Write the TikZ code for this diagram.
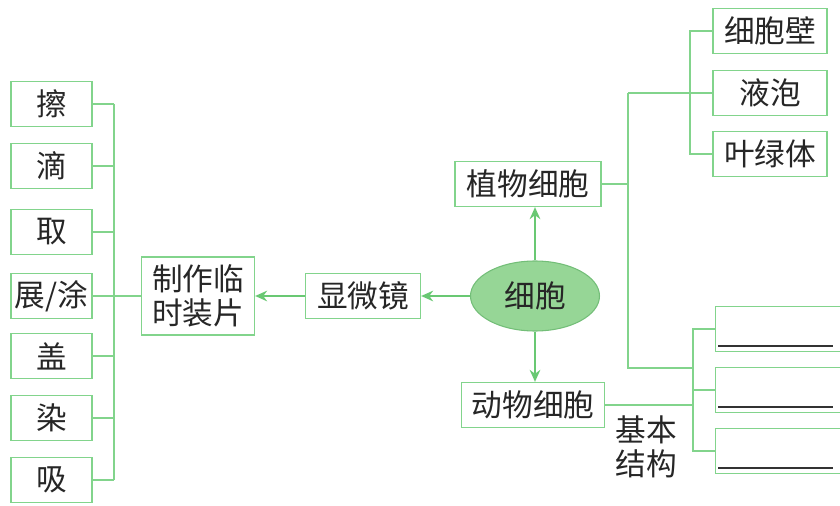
\documentclass[tikz,border=0pt]{standalone}
\usepackage{fontspec}
\newfontfamily\cjk{Noto Sans CJK SC}
\usepackage{tikz}
\usetikzlibrary{positioning,arrows.meta,shapes.geometric,calc}

\definecolor{linegreen}{RGB}{130,212,140}
\definecolor{arrowgreen}{RGB}{105,200,115}
\definecolor{cellfill}{RGB}{150,214,150}
\definecolor{celldraw}{RGB}{115,190,120}

\begin{document}
\begin{tikzpicture}[
  x=0.75pt, y=-0.75pt,
  cbox/.style={draw=linegreen, line width=1pt, rectangle, inner sep=0pt,
    minimum height=33.75pt, font=\cjk\fontsize{23}{25}\selectfont, text=black!85},
  stepbox/.style={cbox, minimum width=60.75pt},
  blankbox/.style={cbox, minimum width=95pt},
  link/.style={draw=linegreen, line width=1pt},
  flow/.style={draw=arrowgreen, line width=1pt, -{Stealth[length=9pt,width=8pt]}, arrowgreen},
  blank/.style={draw=black!80, line width=1.2pt},
  >=Stealth
]
\useasboundingbox (0,0) rectangle (840,506);

% centre
\node[ellipse, draw=celldraw, fill=cellfill, line width=0.8pt, inner sep=0pt,
  minimum width=96.75pt, minimum height=52.5pt,
  font=\cjk\fontsize{23}{25}\selectfont, text=black!85] (cell) at (535,296) {细胞};

\node[cbox, minimum width=86.25pt] (scope) at (363,296) {显微镜};
\node[cbox, minimum width=84.75pt, minimum height=58.5pt, align=center] (slide) at (198,296) {制作临\\时装片};
\node[cbox, minimum width=109.5pt] (plant) at (528,184) {植物细胞};
\node[cbox, minimum width=107.25pt] (animal) at (533,405) {动物细胞};

% steps of the slide
\node[stepbox] (ca) at (51.5,104) {擦};
\node[stepbox] (di) at (51.5,166) {滴};
\node[stepbox] (qu) at (51.5,232) {取};
\node[stepbox] (zhan) at (51.5,296) {展/涂};
\node[stepbox] (gai) at (51.5,356) {盖};
\node[stepbox] (ran) at (51.5,418) {染};
\node[stepbox] (xi) at (51.5,480) {吸};

% plant cell parts
\node[cbox, minimum width=85.5pt] (wall) at (770,31) {细胞壁};
\node[cbox, minimum width=85.5pt] (vacuole) at (770,93) {液泡};
\node[cbox, minimum width=85.5pt] (chloro) at (770,154) {叶绿体};

% basic structure (blanks)
\node[blankbox] (k1) at (779,329) {};
\node[blankbox] (k2) at (779,390) {};
\node[blankbox] (k3) at (779,451) {};
\foreach \k in {k1,k2,k3}
  \draw[blank] ([shift={(3,-6)}]\k.south west) -- ([shift={(-10,-6)}]\k.south east);

\node[font=\cjk\fontsize{23}{25}\selectfont, text=black!85, align=center, inner sep=0pt] (basic) at (646,447) {基本\\结构};

% arrows from the centre
\draw[flow] (cell.west) -- (scope.east);
\draw[flow] (scope.west) -- (slide.east);
\draw[flow] (cell.north) -- (cell.north |- plant.south);
\draw[flow] (cell.south) -- (cell.south |- animal.north);

% left bus
\coordinate (lbus) at (114,296);
\foreach \n in {ca,di,qu,gai,ran,xi}
  \draw[link] (\n.east) -- (\n.east -| lbus);
\draw[link] (ca.east -| lbus) -- (xi.east -| lbus);
\draw[link] (zhan.east) -- (slide.west);

% right buses
\coordinate (pbus) at (628,93);
\coordinate (pend) at (628,368);
\coordinate (sbus) at (690,93);
\coordinate (abus) at (693,368);
\draw[link] (plant.east) -- (plant.east -| pbus);
\draw[link] (pbus) -- (vacuole.west);
\draw[link] (pbus) -- (pend) -- (abus);
\draw[link] (wall.west) -- (wall.west -| sbus) -- (chloro.west -| sbus) -- (chloro.west);
\draw[link] (k1.west) -- (k1.west -| abus) -- (k3.west -| abus) -- (k3.west);
\draw[link] (k2.west) -- (k2.west -| abus);
\draw[link] (animal.east) -- (animal.east -| abus);
\end{tikzpicture}
\end{document}
